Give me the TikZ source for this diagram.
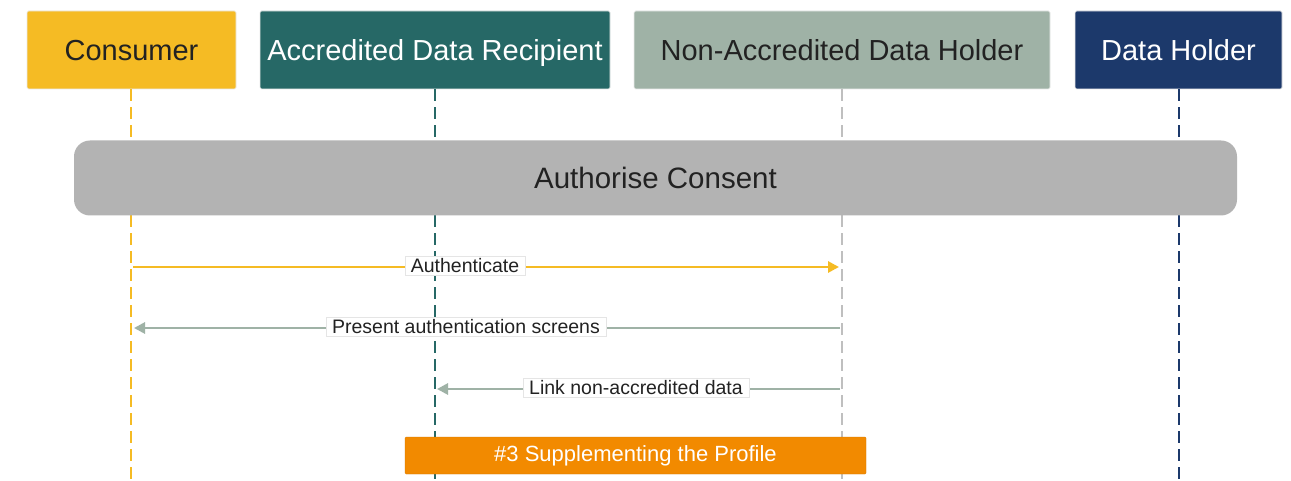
\documentclass[tikz,border=0pt]{standalone}
\usepackage{fontspec}
\setmainfont{Liberation Sans}
\usetikzlibrary{arrows.meta}
\definecolor{cYellow}{HTML}{F5BB24}
\definecolor{cTeal}{HTML}{266866}
\definecolor{cSage}{HTML}{9FB2A6}
\definecolor{cNavy}{HTML}{1C396B}
\definecolor{cGrey}{HTML}{B3B3B3}
\definecolor{cOrange}{HTML}{F28A00}
\definecolor{cText}{HTML}{222222}
\begin{document}
\begin{tikzpicture}[x=1pt,y=1pt,
  actor/.style={draw=black!8,line width=0.6pt,rounded corners=1.5pt,minimum height=78pt,inner sep=0pt,text depth=0pt,font=\fontsize{29}{34}\selectfont},
  lifeline/.style={line width=1.8pt,dash pattern=on 12pt off 6pt},
  msg/.style={line width=2.8pt,-{Triangle[length=11pt,width=11pt]}},
  msglabel/.style={fill=white,draw=black!10,line width=0.4pt,inner xsep=6pt,inner ysep=2.5pt,text=cText,font=\fontsize{19.5}{23}\selectfont},
  phase/.style={fill=cGrey,rounded corners=16pt,minimum height=75pt,text=cText,font=\fontsize{29.5}{34}\selectfont},
  step3/.style={fill=cOrange,draw=cOrange!85!black,line width=0.3pt,rounded corners=1pt,minimum height=37pt,text=white,font=\fontsize{22}{26}\selectfont}]
\useasboundingbox (0,0) rectangle (1291,-481);
\fill[white] (0,0) rectangle (1291,-481);

% participants
\node[actor,fill=cYellow,text=cText,minimum width=209pt] (cons) at (131.5,-50) {Consumer};
\node[actor,fill=cTeal,text=white,minimum width=350pt] (adr) at (435,-50) {Accredited Data Recipient};
\node[actor,fill=cSage,text=cText,minimum width=416pt] (nadh) at (842,-50) {Non-Accredited Data Holder};
\node[actor,fill=cNavy,text=white,minimum width=207pt] (dh) at (1178.5,-50) {Data Holder};

% lifeline ends
\coordinate (consE) at (131,-481);
\coordinate (adrE) at (435,-481);
\coordinate (nadhE) at (842,-481);
\coordinate (dhE) at (1179,-481);

\draw[lifeline,cYellow] (cons.south -| consE) -- (consE);
\draw[lifeline,cTeal] (adr.south -| adrE) -- (adrE);
\draw[lifeline,black!25] (nadh.south -| nadhE) -- (nadhE);
\draw[lifeline,cNavy] (dh.south -| dhE) -- (dhE);

% consent phase
\node[phase,minimum width=1163pt] (auth) at (655.5,-178) {Authorise Consent};

% messages
\coordinate (m1a) at (133,-267);
\coordinate (m1b) at (839,-267);
\coordinate (m2a) at (840,-328);
\coordinate (m2b) at (134,-328);
\coordinate (m3a) at (840,-389);
\coordinate (m3b) at (437,-389);

\draw[msg,cYellow] (m1a) -- (m1b);
\draw[msg,cSage] (m2a) -- (m2b);
\draw[msg,cSage] (m3a) -- (m3b);

\node[msglabel] (l1) at (465,-266) {Authenticate};
\node[msglabel] (l2) at (466,-327) {Present authentication screens};
\node[msglabel] (l3) at (636,-388) {Link non-accredited data};

% step banner
\node[step3,minimum width=461pt] (s3) at (635.5,-455.5) {\#3 Supplementing the Profile};
\end{tikzpicture}
\end{document}
